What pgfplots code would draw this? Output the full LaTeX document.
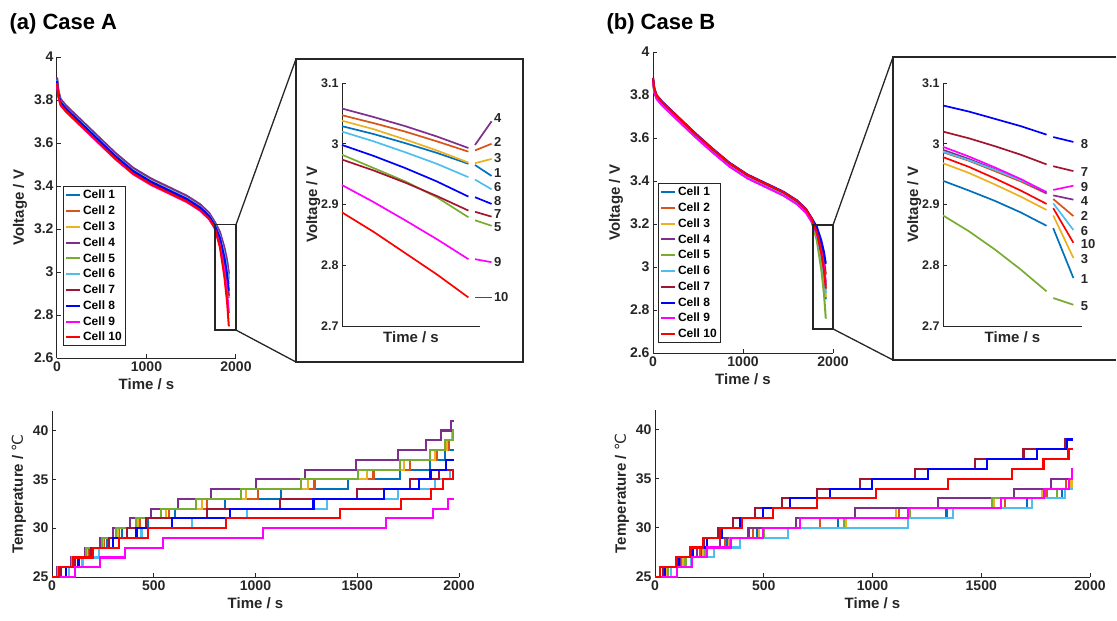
\documentclass[border=0pt]{standalone}
\usepackage{fontspec}
\setmainfont{Liberation Sans}
\newfontfamily\dejavu{DejaVu Sans}
\usepackage{pgfplots}
\usepackage{pgfplotstable}
\pgfplotsset{compat=1.18}

\definecolor{C1}{HTML}{0072BD}
\definecolor{C2}{HTML}{D95319}
\definecolor{C3}{HTML}{EDB120}
\definecolor{C4}{HTML}{7E2F8E}
\definecolor{C5}{HTML}{77AC30}
\definecolor{C6}{HTML}{4DBEEE}
\definecolor{C7}{HTML}{A2142F}
\definecolor{C8}{HTML}{0000FF}
\definecolor{C9}{HTML}{FF00FF}
\definecolor{C10}{HTML}{FF0000}
\definecolor{axc}{HTML}{262626}

\pgfplotsset{
  matax/.style={
    scale only axis, anchor=south west,
    axis x line*=bottom, axis y line*=left,
    axis line style={draw=axc, line width=1pt, -},
    tick style={draw=axc, line width=1pt},
    tick align=inside, major tick length=4pt,
    tick label style={font=\bfseries\fontsize{14}{14}\selectfont, text=axc},
    label style={font=\bfseries\fontsize{15}{15}\selectfont, text=axc},
    /pgf/number format/assume math mode=true,
    /pgf/number format/1000 sep={},
    scaled ticks=false,
    clip=false,
  },
  insetax/.style={
    matax, xmin=0, xmax=1, ymin=2.7, ymax=3.1,
    xtick=\empty, ytick={2.7,2.8,2.9,3,3.1},
    tick label style={font=\bfseries\fontsize{12.5}{12.5}\selectfont, text=axc},
    xlabel={Time / s}, ylabel={Voltage / V}, ylabel shift=-6pt,
    xlabel shift=2pt,
  },
  tempax/.style={
    matax, xmin=0, xmax=2000, ymin=25, ymax=42,
    xtick={0,500,1000,1500,2000}, ytick={25,30,35,40},
    xlabel={Time / s}, ylabel={Temperature / {\dejavu\mdseries ℃}},
  },
  cellleg/.style={
    legend style={anchor=north west, font=\bfseries\fontsize{12}{12}\selectfont,
      draw=axc, line width=1pt, inner sep=1.5pt, row sep=1.6pt,
      cells={anchor=west}},
  },
  mline/.style={line width=2pt},
  iline/.style={line width=1.7pt},
  tline/.style={line width=2.1pt},
}

% main discharge curves, case A
\pgfplotstableread{
t     c1    c2    c3    c4    c5    c6    c7    c8    c9    c10
0     3.895 3.900 3.898 3.905 3.887 3.893 3.885 3.890 3.875 3.878
15    3.835 3.840 3.838 3.845 3.827 3.833 3.825 3.830 3.815 3.818
40    3.795 3.800 3.798 3.805 3.787 3.793 3.785 3.790 3.775 3.778
100   3.765 3.770 3.768 3.775 3.757 3.763 3.755 3.760 3.745 3.748
250   3.705 3.710 3.708 3.715 3.697 3.703 3.695 3.700 3.685 3.688
450   3.625 3.630 3.628 3.635 3.617 3.623 3.615 3.620 3.605 3.608
650   3.545 3.550 3.548 3.555 3.537 3.543 3.535 3.540 3.525 3.528
850   3.475 3.480 3.478 3.485 3.467 3.473 3.465 3.470 3.455 3.458
1050  3.425 3.430 3.428 3.435 3.417 3.423 3.415 3.420 3.405 3.408
1250  3.385 3.390 3.388 3.395 3.377 3.383 3.375 3.380 3.365 3.368
1450  3.345 3.350 3.348 3.355 3.337 3.343 3.335 3.340 3.325 3.328
1600  3.305 3.310 3.308 3.315 3.297 3.303 3.295 3.300 3.285 3.288
1700  3.265 3.270 3.268 3.275 3.257 3.263 3.255 3.260 3.245 3.248
1760  3.225 3.230 3.228 3.235 3.217 3.223 3.215 3.220 3.205 3.208
1820  3.173 3.181 3.176 3.187 3.149 3.167 3.150 3.159 3.126 3.116
1870  3.096 3.109 3.099 3.114 3.048 3.084 3.053 3.067 3.008 2.978
1900  3.031 3.048 3.034 3.054 2.963 3.015 2.971 2.990 2.909 2.862
1920  2.967 2.987 2.969 2.993 2.879 2.945 2.890 2.913 2.810 2.747
}\mainA

% main discharge curves, case B
\pgfplotstableread{
t     c1    c2    c3    c4    c5    c6    c7    c8    c9    c10
0     3.864 3.870 3.866 3.874 3.865 3.868 3.876 3.880 3.862 3.878
15    3.814 3.820 3.816 3.824 3.815 3.818 3.826 3.830 3.812 3.828
40    3.784 3.790 3.786 3.794 3.785 3.788 3.796 3.800 3.782 3.798
100   3.754 3.760 3.756 3.764 3.755 3.758 3.766 3.770 3.752 3.768
250   3.694 3.700 3.696 3.704 3.695 3.698 3.706 3.710 3.692 3.708
450   3.614 3.620 3.616 3.624 3.615 3.618 3.626 3.630 3.612 3.628
650   3.539 3.545 3.541 3.549 3.540 3.543 3.551 3.555 3.537 3.553
850   3.469 3.475 3.471 3.479 3.470 3.473 3.481 3.485 3.467 3.483
1050  3.414 3.420 3.416 3.424 3.415 3.418 3.426 3.430 3.412 3.428
1250  3.374 3.380 3.376 3.384 3.375 3.378 3.386 3.390 3.372 3.388
1450  3.334 3.340 3.336 3.344 3.335 3.338 3.346 3.350 3.332 3.348
1600  3.294 3.300 3.296 3.304 3.295 3.298 3.306 3.310 3.292 3.308
1700  3.254 3.260 3.256 3.264 3.255 3.258 3.266 3.270 3.252 3.268
1760  3.214 3.220 3.216 3.224 3.215 3.218 3.226 3.230 3.212 3.228
1820  3.141 3.155 3.145 3.162 3.124 3.150 3.174 3.187 3.156 3.162
1870  3.032 3.058 3.038 3.070 2.988 3.049 3.096 3.123 3.071 3.064
1900  2.941 2.976 2.949 2.992 2.874 2.964 3.030 3.069 3.001 2.982
1920  2.850 2.895 2.860 2.915 2.760 2.880 2.965 3.015 2.930 2.900
}\mainB

% zoomed end of discharge, case A (x in relative units)
\pgfplotstableread{
x     c1    c2    c3    c4    c5    c6    c7    c8    c9    c10
0     3.029 3.047 3.038 3.058 2.982 3.020 2.974 2.998 2.932 2.887
0.229 3.016 3.034 3.024 3.044 2.960 3.004 2.956 2.980 2.904 2.855
0.458 3.001 3.020 3.007 3.029 2.938 2.986 2.936 2.960 2.874 2.820
0.687 2.985 3.004 2.989 3.012 2.912 2.967 2.914 2.938 2.843 2.785
0.916 2.967 2.987 2.969 2.993 2.879 2.945 2.890 2.913 2.810 2.747
}\insetA
\pgfplotstableread{
x     c1    c2    c3    c4    c5    c6    c7    c8    c9    c10
0.964 2.965 2.989 2.968 2.998 2.874 2.941 2.888 2.912 2.810 2.747
1.084 2.947 3.000 2.975 3.037 2.865 2.925 2.880 2.901 2.805 2.747
}\segA

% zoomed end of discharge, case B
\pgfplotstableread{
x     c1    c2    c3    c4    c5    c6    c7    c8    c9    c10
0     2.939 2.986 2.968 2.990 2.882 2.987 3.020 3.063 2.995 2.978
0.186 2.923 2.972 2.952 2.975 2.856 2.973 3.009 3.053 2.979 2.962
0.373 2.906 2.955 2.933 2.958 2.826 2.957 2.996 3.041 2.961 2.943
0.559 2.887 2.938 2.913 2.940 2.793 2.940 2.982 3.029 2.942 2.923
0.745 2.865 2.918 2.891 2.919 2.757 2.921 2.966 3.015 2.920 2.901
}\insetB
\pgfplotstableread{
x     c1    c2    c3    c4    c5    c6    c7    c8    c9    c10
0.793 2.861 2.909 2.882 2.915 2.746 2.902 2.963 3.011 2.924 2.894
0.938 2.779 2.881 2.812 2.908 2.735 2.858 2.955 3.003 2.931 2.837
}\segB

\begin{document}
\begin{tikzpicture}
\useasboundingbox (0,0) rectangle (1117pt,-621pt);

\node[anchor=west, font=\bfseries\fontsize{22}{22}\selectfont] at (6pt,-24pt) {(a) Case A};
\node[anchor=west, font=\bfseries\fontsize{22}{22}\selectfont] at (603pt,-24pt) {(b) Case B};

% ---------------- case A: voltage ----------------
\begin{axis}[matax, cellleg, at={(57pt,-358pt)}, width=179pt, height=301pt,
  xmin=0, xmax=2000, ymin=2.6, ymax=4,
  xtick={0,1000,2000}, ytick={2.6,2.8,3,3.2,3.4,3.6,3.8,4},
  xlabel={Time / s}, ylabel={Voltage / V},
  legend style={at={(0.034,0.571)}},
  legend image code/.code={\draw[#1] (0pt,0pt) -- (14pt,0pt);},
]
\addplot[C1, mline] table[x=t,y=c1]{\mainA};
\addplot[C2, mline] table[x=t,y=c2]{\mainA};
\addplot[C3, mline] table[x=t,y=c3]{\mainA};
\addplot[C4, mline] table[x=t,y=c4]{\mainA};
\addplot[C5, mline] table[x=t,y=c5]{\mainA};
\addplot[C6, mline] table[x=t,y=c6]{\mainA};
\addplot[C7, mline] table[x=t,y=c7]{\mainA};
\addplot[C8, mline] table[x=t,y=c8]{\mainA};
\addplot[C9, mline] table[x=t,y=c9]{\mainA};
\addplot[C10, mline] table[x=t,y=c10]{\mainA};
\legend{Cell 1,Cell 2,Cell 3,Cell 4,Cell 5,Cell 6,Cell 7,Cell 8,Cell 9,Cell 10}
\draw[axc, line width=1.3pt] (axis cs:1765,2.73) rectangle (axis cs:2000,3.22);
\coordinate (a1) at (axis cs:2000,3.22);
\coordinate (a2) at (axis cs:2000,2.73);
\end{axis}

\draw[axc, line width=1.3pt] (296pt,-59pt) rectangle (523pt,-362pt);
\draw[axc, line width=1.3pt] (a1) -- (296pt,-59pt);
\draw[axc, line width=1.3pt] (a2) -- (296pt,-362pt);

\begin{axis}[insetax, at={(342pt,-326pt)}, width=138pt, height=243pt]
\addplot[C1, iline] table[x=x,y=c1]{\insetA};
\addplot[C2, iline] table[x=x,y=c2]{\insetA};
\addplot[C3, iline] table[x=x,y=c3]{\insetA};
\addplot[C4, iline] table[x=x,y=c4]{\insetA};
\addplot[C5, iline] table[x=x,y=c5]{\insetA};
\addplot[C6, iline] table[x=x,y=c6]{\insetA};
\addplot[C7, iline] table[x=x,y=c7]{\insetA};
\addplot[C8, iline] table[x=x,y=c8]{\insetA};
\addplot[C9, iline] table[x=x,y=c9]{\insetA};
\addplot[C10, iline] table[x=x,y=c10]{\insetA};
\addplot[C1, iline] table[x=x,y=c1]{\segA};
\addplot[C2, iline] table[x=x,y=c2]{\segA};
\addplot[C3, iline] table[x=x,y=c3]{\segA};
\addplot[C4, iline] table[x=x,y=c4]{\segA};
\addplot[C5, iline] table[x=x,y=c5]{\segA};
\addplot[C6, iline] table[x=x,y=c6]{\segA};
\addplot[C7, iline] table[x=x,y=c7]{\segA};
\addplot[C8, iline] table[x=x,y=c8]{\segA};
\addplot[C9, iline] table[x=x,y=c9]{\segA};
\addplot[C10, iline] table[x=x,y=c10]{\segA};
\begin{scope}[every node/.style={anchor=west, inner sep=0pt, text=axc,
    font=\bfseries\fontsize{13}{13}\selectfont}]
\node at (axis cs:1.10,3.043) {4};
\node at (axis cs:1.10,3.003) {2};
\node at (axis cs:1.10,2.976) {3};
\node at (axis cs:1.10,2.951) {1};
\node at (axis cs:1.10,2.928) {6};
\node at (axis cs:1.10,2.906) {8};
\node at (axis cs:1.10,2.885) {7};
\node at (axis cs:1.10,2.863) {5};
\node at (axis cs:1.10,2.806) {9};
\node at (axis cs:1.10,2.747) {10};
\end{scope}
\end{axis}

% ---------------- case A: temperature ----------------
\begin{axis}[tempax, at={(52pt,-577pt)}, width=407pt, height=166pt, const plot]
\addplot[C1, tline] coordinates {(0,25)(40,26)(110,27)(185,28)(270,29)(345,30)(470,31)(605,32)(848,33)(1127,34)(1454,35)(1708,36)(1856,37)(1930,38)(1975,38)};
\addplot[C2, tline] coordinates {(0,25)(35,26)(105,27)(175,28)(255,29)(330,30)(430,31)(575,32)(760,33)(1012,34)(1290,35)(1580,36)(1760,37)(1890,38)(1950,39)(1975,39)};
\addplot[C3, tline] coordinates {(0,25)(33,26)(100,27)(170,28)(250,29)(325,30)(420,31)(560,32)(735,33)(955,34)(1260,35)(1550,36)(1730,37)(1880,38)(1940,39)(1968,40)(1975,40)};
\addplot[C4, tline] coordinates {(0,25)(25,26)(95,27)(160,28)(235,29)(300,30)(382,31)(488,32)(619,33)(783,34)(1004,35)(1242,36)(1496,37)(1700,38)(1840,39)(1913,40)(1962,41)(1975,41)};
\addplot[C5, tline] coordinates {(0,25)(30,26)(100,27)(165,28)(245,29)(316,30)(414,31)(537,32)(709,33)(930,34)(1225,35)(1504,36)(1708,37)(1856,38)(1930,39)(1970,40)(1975,40)};
\addplot[C6, tline] coordinates {(0,25)(85,26)(150,27)(230,28)(330,29)(440,30)(690,31)(960,32)(1350,33)(1700,34)(1880,35)(1955,36)(1975,36)};
\addplot[C7, tline] coordinates {(0,25)(45,26)(115,27)(190,28)(280,29)(370,30)(460,31)(760,32)(1120,33)(1500,34)(1760,35)(1900,36)(1975,36)};
\addplot[C8, tline] coordinates {(0,25)(70,26)(130,27)(200,28)(300,29)(415,30)(590,31)(873,32)(1285,33)(1630,34)(1805,35)(1860,36)(1937,37)(1975,37)};
\addplot[C9, tline] coordinates {(0,25)(115,26)(234,27)(357,28)(545,29)(1037,30)(1643,31)(1872,32)(1946,33)(1975,33)};
\addplot[C10, tline] coordinates {(0,25)(35,26)(105,27)(200,28)(330,29)(472,30)(857,31)(1414,32)(1717,33)(1864,34)(1921,35)(1970,36)(1975,36)};
\end{axis}

% ---------------- case B: voltage ----------------
\begin{axis}[matax, cellleg, at={(653pt,-353pt)}, width=180pt, height=301pt,
  xmin=0, xmax=2000, ymin=2.6, ymax=4,
  xtick={0,1000,2000}, ytick={2.6,2.8,3,3.2,3.4,3.6,3.8,4},
  xlabel={Time / s}, ylabel={Voltage / V},
  legend style={at={(0.028,0.565)}},
  legend image code/.code={\draw[#1] (0pt,0pt) -- (14pt,0pt);},
]
\addplot[C1, mline] table[x=t,y=c1]{\mainB};
\addplot[C2, mline] table[x=t,y=c2]{\mainB};
\addplot[C3, mline] table[x=t,y=c3]{\mainB};
\addplot[C4, mline] table[x=t,y=c4]{\mainB};
\addplot[C5, mline] table[x=t,y=c5]{\mainB};
\addplot[C6, mline] table[x=t,y=c6]{\mainB};
\addplot[C7, mline] table[x=t,y=c7]{\mainB};
\addplot[C8, mline] table[x=t,y=c8]{\mainB};
\addplot[C9, mline] table[x=t,y=c9]{\mainB};
\addplot[C10, mline] table[x=t,y=c10]{\mainB};
\legend{Cell 1,Cell 2,Cell 3,Cell 4,Cell 5,Cell 6,Cell 7,Cell 8,Cell 9,Cell 10}
\draw[axc, line width=1.3pt] (axis cs:1778,2.712) rectangle (axis cs:2000,3.195);
\coordinate (b1) at (axis cs:2000,3.195);
\coordinate (b2) at (axis cs:2000,2.712);
\end{axis}

\draw[axc, line width=1.3pt] (1116pt,-57pt) -- (893pt,-57pt) -- (893pt,-360pt) -- (1116pt,-360pt);
\draw[axc, line width=1.3pt] (b1) -- (893pt,-57pt);
\draw[axc, line width=1.3pt] (b2) -- (893pt,-360pt);

\begin{axis}[insetax, at={(943pt,-326pt)}, width=139pt, height=243pt]
\addplot[C1, iline] table[x=x,y=c1]{\insetB};
\addplot[C2, iline] table[x=x,y=c2]{\insetB};
\addplot[C3, iline] table[x=x,y=c3]{\insetB};
\addplot[C4, iline] table[x=x,y=c4]{\insetB};
\addplot[C5, iline] table[x=x,y=c5]{\insetB};
\addplot[C6, iline] table[x=x,y=c6]{\insetB};
\addplot[C7, iline] table[x=x,y=c7]{\insetB};
\addplot[C8, iline] table[x=x,y=c8]{\insetB};
\addplot[C9, iline] table[x=x,y=c9]{\insetB};
\addplot[C10, iline] table[x=x,y=c10]{\insetB};
\addplot[C1, iline] table[x=x,y=c1]{\segB};
\addplot[C2, iline] table[x=x,y=c2]{\segB};
\addplot[C3, iline] table[x=x,y=c3]{\segB};
\addplot[C4, iline] table[x=x,y=c4]{\segB};
\addplot[C5, iline] table[x=x,y=c5]{\segB};
\addplot[C6, iline] table[x=x,y=c6]{\segB};
\addplot[C7, iline] table[x=x,y=c7]{\segB};
\addplot[C8, iline] table[x=x,y=c8]{\segB};
\addplot[C9, iline] table[x=x,y=c9]{\segB};
\addplot[C10, iline] table[x=x,y=c10]{\segB};
\begin{scope}[every node/.style={anchor=west, inner sep=0pt, text=axc,
    font=\bfseries\fontsize{13}{13}\selectfont}]
\node at (axis cs:0.99,3.000) {8};
\node at (axis cs:0.99,2.953) {7};
\node at (axis cs:0.99,2.929) {9};
\node at (axis cs:0.99,2.905) {4};
\node at (axis cs:0.99,2.881) {2};
\node at (axis cs:0.99,2.857) {6};
\node at (axis cs:0.99,2.835) {10};
\node at (axis cs:0.99,2.810) {3};
\node at (axis cs:0.99,2.778) {1};
\node at (axis cs:0.99,2.732) {5};
\end{scope}
\end{axis}

% ---------------- case B: temperature ----------------
\begin{axis}[tempax, at={(655pt,-577pt)}, width=435pt, height=167pt, const plot]
\addplot[C1, tline] coordinates {(0,25)(50,26)(125,27)(215,28)(330,29)(470,30)(840,31)(1340,32)(1710,33)(1870,34)(1921,34)};
\addplot[C2, tline] coordinates {(0,25)(45,26)(120,27)(205,28)(320,29)(450,30)(760,31)(1120,32)(1610,33)(1800,34)(1890,35)(1921,35)};
\addplot[C3, tline] coordinates {(0,25)(55,26)(130,27)(220,28)(340,29)(480,30)(880,31)(1110,32)(1560,33)(1780,34)(1915,35)(1921,35)};
\addplot[C4, tline] coordinates {(0,25)(40,26)(115,27)(195,28)(300,29)(430,30)(650,31)(920,32)(1300,33)(1650,34)(1820,35)(1921,35)};
\addplot[C5, tline] coordinates {(0,25)(60,26)(140,27)(230,28)(345,29)(500,30)(870,31)(1170,32)(1550,33)(1850,34)(1921,34)};
\addplot[C6, tline] coordinates {(0,25)(75,26)(165,27)(270,28)(391,29)(613,30)(1165,31)(1372,32)(1735,33)(1885,34)(1921,34)};
\addplot[C7, tline] coordinates {(0,25)(35,26)(100,27)(165,28)(225,29)(290,30)(360,31)(460,32)(583,33)(743,34)(943,35)(1196,36)(1472,37)(1694,38)(1885,39)(1921,39)};
\addplot[C8, tline] coordinates {(0,25)(45,26)(110,27)(175,28)(240,29)(310,30)(391,31)(498,32)(621,33)(805,34)(997,35)(1257,36)(1525,37)(1755,38)(1893,39)(1921,39)};
\addplot[C9, tline] coordinates {(0,25)(100,26)(170,27)(240,28)(350,29)(495,30)(667,31)(1165,32)(1590,33)(1790,34)(1905,35)(1918,36)(1921,36)};
\addplot[C10, tline] coordinates {(0,25)(25,26)(95,27)(160,28)(220,29)(300,30)(400,31)(544,32)(743,33)(1015,34)(1349,35)(1640,36)(1786,37)(1901,38)(1921,38)};
\end{axis}
\end{tikzpicture}
\end{document}
